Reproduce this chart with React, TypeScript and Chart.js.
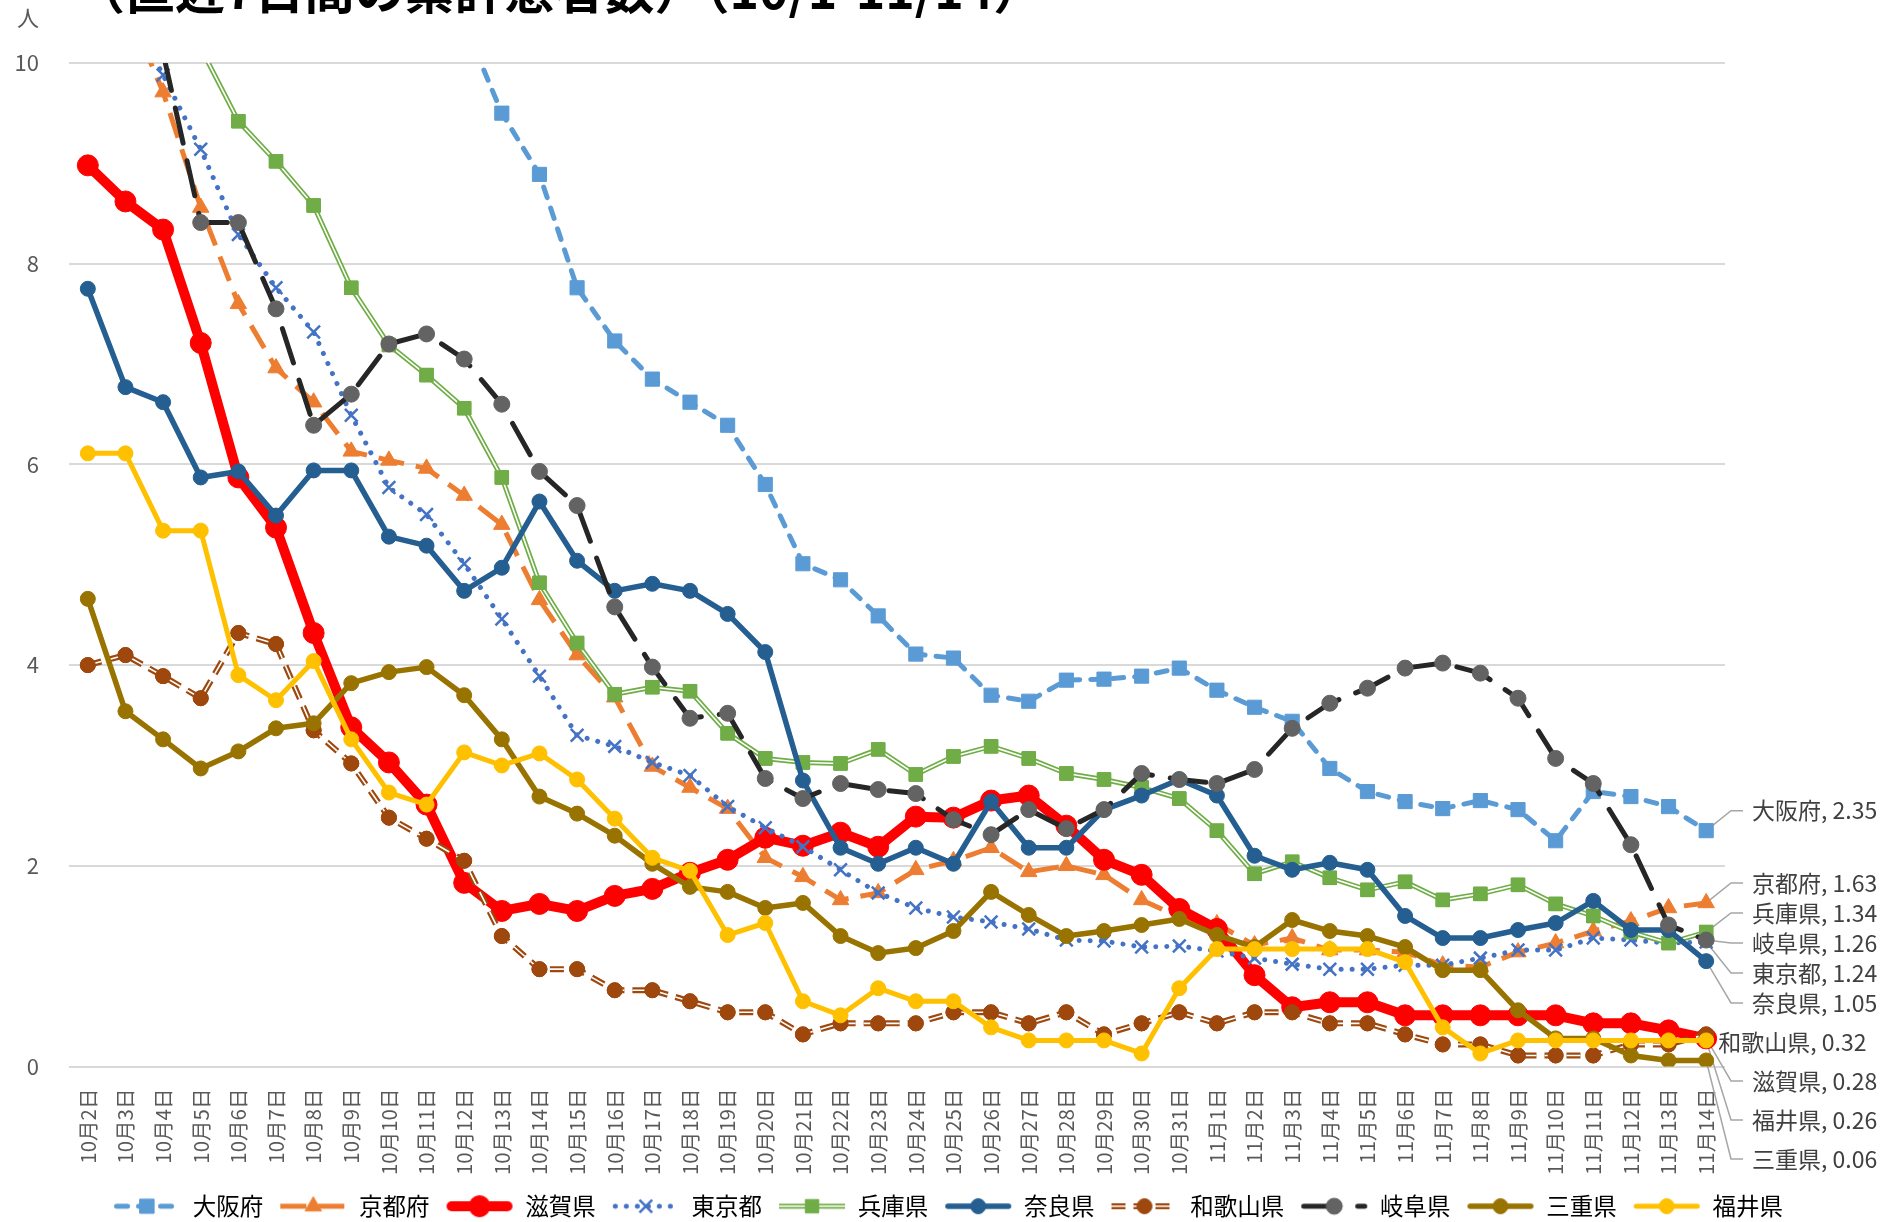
import React, { useEffect, useRef } from "react";
import { Chart, registerables } from "chart.js";

Chart.register(...registerables);

const FONT = '"Noto Sans CJK JP", "Noto Sans", sans-serif';

const TITLE = "（直近7日間の累計患者数）（10/1-11/14）";
const UNIT = "人";

const categories = [
  "10月2日", "10月3日", "10月4日", "10月5日", "10月6日", "10月7日", "10月8日", "10月9日",
  "10月10日", "10月11日", "10月12日", "10月13日", "10月14日", "10月15日", "10月16日", "10月17日",
  "10月18日", "10月19日", "10月20日", "10月21日", "10月22日", "10月23日", "10月24日", "10月25日",
  "10月26日", "10月27日", "10月28日", "10月29日", "10月30日", "10月31日",
  "11月1日", "11月2日", "11月3日", "11月4日", "11月5日", "11月6日", "11月7日", "11月8日",
  "11月9日", "11月10日", "11月11日", "11月12日", "11月13日", "11月14日",
];

const names = ["大阪府", "京都府", "滋賀県", "東京都", "兵庫県", "奈良県", "和歌山県", "岐阜県", "三重県", "福井県"];

const osaka = [16.2, 15.5, 14.8, 14.1, 13.4, 12.8, 12.2, 11.6, 11.2, 10.8, 10.4, 9.50, 8.89, 7.76, 7.23, 6.85, 6.62, 6.39, 5.80, 5.01, 4.85, 4.49, 4.11, 4.07, 3.70, 3.64, 3.85, 3.86, 3.89, 3.97, 3.75, 3.58, 3.44, 2.97, 2.74, 2.64, 2.57, 2.65, 2.56, 2.25, 2.74, 2.69, 2.59, 2.35];
const kyoto = [11.2, 10.6, 9.71, 8.56, 7.60, 6.96, 6.62, 6.13, 6.04, 5.96, 5.69, 5.40, 4.65, 4.10, 3.68, 2.99, 2.78, 2.57, 2.08, 1.89, 1.66, 1.73, 1.96, 2.05, 2.18, 1.94, 2.00, 1.91, 1.66, 1.49, 1.42, 1.21, 1.28, 1.16, 1.16, 1.14, 1.01, 0.99, 1.14, 1.23, 1.35, 1.45, 1.58, 1.63];
const shiga = [8.98, 8.62, 8.34, 7.21, 5.87, 5.37, 4.32, 3.38, 3.03, 2.61, 1.83, 1.55, 1.62, 1.55, 1.70, 1.77, 1.93, 2.06, 2.28, 2.20, 2.33, 2.19, 2.49, 2.48, 2.65, 2.70, 2.40, 2.06, 1.91, 1.57, 1.37, 0.91, 0.59, 0.64, 0.64, 0.51, 0.51, 0.51, 0.51, 0.51, 0.43, 0.43, 0.36, 0.28];
const tokyo = [11.3, 10.6, 9.88, 9.14, 8.29, 7.76, 7.32, 6.49, 5.77, 5.50, 5.01, 4.46, 3.89, 3.30, 3.19, 3.03, 2.90, 2.59, 2.38, 2.19, 1.96, 1.73, 1.58, 1.49, 1.44, 1.37, 1.26, 1.25, 1.19, 1.20, 1.15, 1.08, 1.02, 0.97, 0.97, 1.01, 1.01, 1.08, 1.16, 1.16, 1.28, 1.26, 1.23, 1.24];
const hyogo = [12.3, 11.5, 10.8, 10.15, 9.42, 9.02, 8.58, 7.76, 7.19, 6.89, 6.56, 5.87, 4.82, 4.22, 3.71, 3.78, 3.74, 3.32, 3.07, 3.03, 3.02, 3.16, 2.91, 3.09, 3.19, 3.07, 2.92, 2.86, 2.78, 2.67, 2.35, 1.92, 2.04, 1.88, 1.76, 1.84, 1.66, 1.72, 1.81, 1.62, 1.50, 1.34, 1.23, 1.34];
const nara = [7.75, 6.77, 6.62, 5.87, 5.93, 5.49, 5.94, 5.94, 5.28, 5.19, 4.74, 4.97, 5.63, 5.04, 4.74, 4.81, 4.74, 4.51, 4.13, 2.85, 2.18, 2.02, 2.18, 2.02, 2.64, 2.18, 2.18, 2.56, 2.70, 2.86, 2.70, 2.10, 1.96, 2.03, 1.96, 1.50, 1.28, 1.28, 1.36, 1.43, 1.65, 1.36, 1.36, 1.05];
const wakayama = [4.00, 4.10, 3.89, 3.67, 4.32, 4.21, 3.35, 3.02, 2.48, 2.27, 2.05, 1.30, 0.97, 0.97, 0.76, 0.76, 0.65, 0.54, 0.54, 0.32, 0.43, 0.43, 0.43, 0.54, 0.54, 0.43, 0.54, 0.32, 0.43, 0.54, 0.43, 0.54, 0.54, 0.43, 0.43, 0.32, 0.22, 0.22, 0.11, 0.11, 0.11, 0.22, 0.22, 0.32];
const gifu = [11.5, 10.9, 10.1, 8.41, 8.41, 7.55, 6.39, 6.70, 7.20, 7.30, 7.05, 6.60, 5.93, 5.59, 4.58, 3.98, 3.47, 3.52, 2.87, 2.67, 2.82, 2.76, 2.72, 2.46, 2.31, 2.56, 2.37, 2.56, 2.92, 2.86, 2.82, 2.96, 3.37, 3.62, 3.77, 3.97, 4.02, 3.92, 3.67, 3.07, 2.82, 2.21, 1.41, 1.26];
const mie = [4.66, 3.54, 3.26, 2.97, 3.14, 3.37, 3.42, 3.82, 3.93, 3.98, 3.70, 3.26, 2.69, 2.52, 2.30, 2.02, 1.79, 1.74, 1.58, 1.63, 1.30, 1.13, 1.18, 1.35, 1.74, 1.51, 1.30, 1.35, 1.41, 1.47, 1.31, 1.19, 1.46, 1.35, 1.30, 1.19, 0.96, 0.96, 0.56, 0.28, 0.28, 0.11, 0.06, 0.06];
const fukui = [6.11, 6.11, 5.34, 5.34, 3.90, 3.65, 4.04, 3.26, 2.73, 2.61, 3.13, 3.00, 3.12, 2.86, 2.47, 2.08, 1.95, 1.31, 1.43, 0.65, 0.51, 0.78, 0.65, 0.65, 0.39, 0.26, 0.26, 0.26, 0.13, 0.78, 1.17, 1.17, 1.17, 1.17, 1.17, 1.04, 0.39, 0.13, 0.26, 0.26, 0.26, 0.26, 0.26, 0.26];

const seriesData = [osaka, kyoto, shiga, tokyo, hyogo, nara, wakayama, gifu, mie, fukui];

const yMin = 0;
const yMax = 10;
const yStep = 2;

type St = {
  color: string;
  width: number;
  dash: number[];
  cap: CanvasLineCap;
  marker: string;
  radius: number;
  markerFill: string;
  markerBorder: number;
  core?: number;
  leader: boolean;
};

const styles: St[] = [
  { color: "#5B9BD5", width: 5, dash: [11, 11], cap: "round", marker: "rect", radius: 10, markerFill: "#5B9BD5", markerBorder: 1, leader: true },
  { color: "#ED7D31", width: 5, dash: [26, 12], cap: "butt", marker: "triangle", radius: 9.5, markerFill: "#ED7D31", markerBorder: 1, leader: true },
  { color: "#FF0000", width: 10, dash: [], cap: "round", marker: "circle", radius: 10.5, markerFill: "#FF0000", markerBorder: 1, leader: true },
  { color: "#4472C4", width: 5, dash: [0.01, 11], cap: "round", marker: "crossRot", radius: 9, markerFill: "#4472C4", markerBorder: 2.5, leader: true },
  { color: "#70AD47", width: 5, dash: [], cap: "butt", marker: "rect", radius: 9.5, markerFill: "#70AD47", markerBorder: 1, core: 1.6, leader: true },
  { color: "#255E91", width: 5.5, dash: [], cap: "round", marker: "circle", radius: 7.5, markerFill: "#255E91", markerBorder: 1, leader: true },
  { color: "#9E480E", width: 6, dash: [14, 8], cap: "butt", marker: "circle", radius: 7.5, markerFill: "#9E480E", markerBorder: 1, core: 1.6, leader: false },
  { color: "#262626", width: 5, dash: [36, 18], cap: "round", marker: "circle", radius: 8, markerFill: "#636363", markerBorder: 1, leader: true },
  { color: "#997300", width: 5.5, dash: [], cap: "round", marker: "circle", radius: 7.5, markerFill: "#997300", markerBorder: 1, leader: true },
  { color: "#FFC000", width: 5, dash: [], cap: "round", marker: "circle", radius: 7.5, markerFill: "#FFC000", markerBorder: 1, leader: true },
];

function drawMarker(g: CanvasRenderingContext2D, st: St, x: number, y: number) {
  const r = st.radius;
  g.save();
  g.setLineDash([]);
  g.fillStyle = st.markerFill;
  g.strokeStyle = st.marker === "crossRot" ? st.color : st.markerFill;
  g.lineWidth = st.markerBorder;
  g.beginPath();
  if (st.marker === "circle") {
    g.arc(x, y, r, 0, Math.PI * 2);
    g.fill();
    g.stroke();
  } else if (st.marker === "rect") {
    const s = Math.SQRT1_2 * r;
    g.rect(x - s, y - s, 2 * s, 2 * s);
    g.fill();
    g.stroke();
  } else if (st.marker === "triangle") {
    let a = 0;
    g.moveTo(x + Math.sin(a) * r, y - Math.cos(a) * r);
    a += (2 * Math.PI) / 3;
    g.lineTo(x + Math.sin(a) * r, y - Math.cos(a) * r);
    a += (2 * Math.PI) / 3;
    g.lineTo(x + Math.sin(a) * r, y - Math.cos(a) * r);
    g.closePath();
    g.fill();
    g.stroke();
  } else if (st.marker === "crossRot") {
    const o = Math.cos(Math.PI / 4) * r;
    g.lineCap = "butt";
    g.moveTo(x - o, y - o);
    g.lineTo(x + o, y + o);
    g.moveTo(x - o, y + o);
    g.lineTo(x + o, y - o);
    g.stroke();
  }
  g.restore();
}

const SAMPLE_W = 68;

function makeSample(st: St): HTMLCanvasElement {
  const c = document.createElement("canvas");
  c.width = SAMPLE_W;
  c.height = 26;
  const g = c.getContext("2d")!;
  const cy = 13;
  const inset = st.cap === "round" ? st.width / 2 + 1 : 1;
  g.lineCap = st.cap;
  g.setLineDash(st.dash);
  g.strokeStyle = st.color;
  g.lineWidth = st.width;
  g.beginPath();
  g.moveTo(inset, cy);
  g.lineTo(SAMPLE_W - inset, cy);
  g.stroke();
  if (st.core) {
    g.strokeStyle = "#ffffff";
    g.lineWidth = st.core;
    g.stroke();
  }
  drawMarker(g, st, SAMPLE_W / 2, cy);
  return c;
}

function layoutLabels(chart: any) {
  const items = names
    .map((n, i) => {
      const meta = chart.getDatasetMeta(i);
      const p = meta.data[meta.data.length - 1];
      const arr = seriesData[i];
      const v = arr[arr.length - 1];
      return { i, n, v, px: p.x as number, py: p.y as number, ly: 0 };
    })
    .sort((a, b) => b.v - a.v);
  let prev = -Infinity;
  items.forEach((it) => {
    const gap = it.v >= 1 ? 30 : 39;
    it.ly = Math.max(it.py - 20, prev + gap);
    prev = it.ly;
  });
  return items;
}

const decorPlugin = {
  id: "decor",
  beforeDatasetsDraw(chart: any) {
    const a = chart.chartArea;
    const ctx = chart.ctx as CanvasRenderingContext2D;
    ctx.save();
    ctx.strokeStyle = "#a6a6a6";
    ctx.lineWidth = 1.5;
    layoutLabels(chart).forEach((it) => {
      if (!styles[it.i].leader) return;
      ctx.beginPath();
      ctx.moveTo(it.px, it.py);
      ctx.lineTo(a.right + 6, it.ly);
      ctx.lineTo(a.right + 18, it.ly);
      ctx.stroke();
    });
    ctx.restore();
  },
  afterDatasetDraw(chart: any, args: any) {
    const st = styles[args.index];
    if (!st || !st.core) return;
    const a = chart.chartArea;
    const ctx = chart.ctx as CanvasRenderingContext2D;
    const pts = args.meta.data;
    ctx.save();
    ctx.beginPath();
    ctx.rect(a.left, a.top - st.width / 2, a.right - a.left, a.bottom - a.top + st.width);
    ctx.clip();
    ctx.beginPath();
    pts.forEach((p: any, k: number) => (k ? ctx.lineTo(p.x, p.y) : ctx.moveTo(p.x, p.y)));
    ctx.strokeStyle = "#ffffff";
    ctx.lineWidth = st.core;
    ctx.setLineDash(st.dash);
    ctx.lineCap = st.cap;
    ctx.lineJoin = "round";
    ctx.stroke();
    ctx.setLineDash([]);
    pts.forEach((p: any) => p.draw(ctx, a));
    ctx.restore();
  },
  afterDatasetsDraw(chart: any) {
    const a = chart.chartArea;
    const ctx = chart.ctx as CanvasRenderingContext2D;
    ctx.save();
    ctx.font = `23px ${FONT}`;
    ctx.fillStyle = "#404040";
    ctx.textAlign = "left";
    ctx.textBaseline = "middle";
    layoutLabels(chart).forEach((it) => {
      const x = styles[it.i].leader ? a.right + 27 : it.px + 12;
      ctx.fillText(`${it.n}, ${it.v.toFixed(2)}`, x, it.ly);
    });
    ctx.restore();
  },
  afterDraw(chart: any) {
    const ctx = chart.ctx as CanvasRenderingContext2D;
    ctx.save();
    ctx.font = `bold 50px ${FONT}`;
    ctx.fillStyle = "#000000";
    ctx.textAlign = "left";
    ctx.textBaseline = "alphabetic";
    ctx.fillText(TITLE, 75, 9);
    ctx.font = `22px ${FONT}`;
    ctx.fillStyle = "#595959";
    ctx.textAlign = "center";
    ctx.textBaseline = "middle";
    ctx.fillText(UNIT, 28, 18);
    ctx.restore();
  },
};

export default function App() {
  const ref = useRef<HTMLCanvasElement>(null);
  useEffect(() => {
    Chart.defaults.font.family = FONT;
    const samples = styles.map(makeSample);
    const datasets = names.map((n, i) => {
      const st = styles[i];
      return {
        label: n,
        data: seriesData[i],
        borderColor: st.color,
        backgroundColor: st.color,
        borderWidth: st.width,
        borderDash: st.dash,
        borderCapStyle: st.cap,
        borderJoinStyle: "round",
        pointStyle: st.marker,
        pointRadius: st.radius,
        pointHoverRadius: st.radius,
        pointBackgroundColor: st.markerFill,
        pointBorderColor: st.marker === "crossRot" ? st.color : st.markerFill,
        pointBorderWidth: st.markerBorder,
        tension: 0,
        fill: false,
        order: -i,
        yAxisID: "y",
      };
    });
    const chart = new Chart(ref.current!, {
      type: "line",
      data: { labels: categories, datasets: datasets as any },
      plugins: [decorPlugin as any],
      options: {
        animation: false,
        responsive: true,
        maintainAspectRatio: false,
        events: [],
        layout: { padding: { top: 63, left: 0, right: 0, bottom: -6 } },
        plugins: {
          tooltip: { enabled: false },
          title: { display: false },
          legend: {
            position: "bottom",
            labels: {
              usePointStyle: true,
              pointStyleWidth: SAMPLE_W,
              padding: 16,
              color: "#595959",
              font: { size: 23.5, family: FONT },
              generateLabels: () =>
                names.map((n, i) => ({
                  text: n,
                  pointStyle: samples[i] as any,
                  datasetIndex: i,
                  hidden: false,
                  fillStyle: styles[i].color,
                  strokeStyle: styles[i].color,
                  lineWidth: 0,
                })),
            },
          },
        },
        scales: {
          x: {
            type: "category",
            offset: true,
            grid: { display: false },
            border: { display: false },
            ticks: {
              autoSkip: false,
              maxRotation: 90,
              minRotation: 90,
              padding: 14,
              color: "#595959",
              font: { size: 20.5, family: FONT },
            },
            afterFit: (s: any) => {
              s.height = 112;
            },
          },
          y: {
            min: yMin,
            max: yMax,
            ticks: { stepSize: yStep, padding: 30, color: "#595959", font: { size: 22, family: FONT } },
            grid: { color: "#d9d9d9", lineWidth: 2, drawTicks: false },
            border: { display: false },
            afterFit: (s: any) => {
              s.width = 69;
            },
          },
          yRight: {
            position: "right",
            min: yMin,
            max: yMax,
            grid: { display: false },
            border: { display: false },
            ticks: { display: false },
            afterFit: (s: any) => {
              s.width = 171;
            },
          },
        },
      } as any,
    });
    return () => chart.destroy();
  }, []);
  return (
    <div style={{ position: "fixed", left: 0, top: 0, width: 1896, height: 1222, background: "#ffffff" }}>
      <canvas ref={ref} style={{ display: "block" }} />
    </div>
  );
}
